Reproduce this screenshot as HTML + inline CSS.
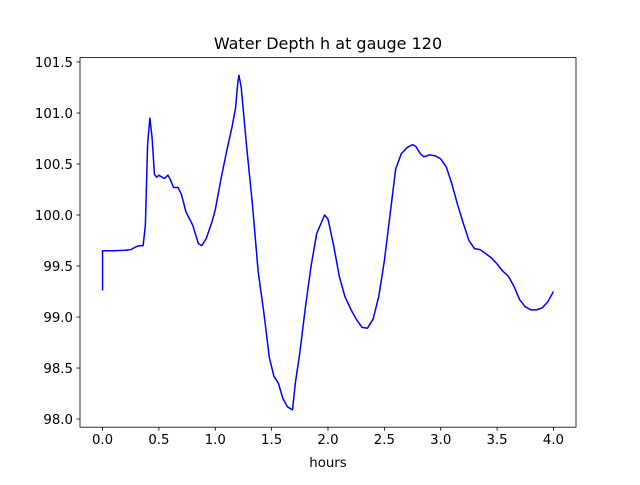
<!DOCTYPE html>
<html><head><meta charset="utf-8"><style>
body{margin:0;background:#fff}
svg text{font-family:"DejaVu Sans","Liberation Sans",sans-serif;fill:#000}
</style></head><body>
<svg width="640" height="480" id="chart"></svg>
<script>
const hours=[0,0,0.1,0.2,0.25,0.3,0.33,0.36,0.38,0.4,0.42,0.44,0.46,0.48,0.5,0.53,0.55,0.58,0.6,0.63,0.67,0.7,0.74,0.8,0.85,0.88,0.92,0.97,1.0,1.05,1.1,1.15,1.18,1.2,1.21,1.23,1.28,1.33,1.38,1.43,1.48,1.52,1.56,1.6,1.64,1.685,1.71,1.75,1.8,1.85,1.9,1.97,2.0,2.05,2.1,2.15,2.2,2.25,2.3,2.35,2.4,2.45,2.5,2.55,2.6,2.65,2.7,2.75,2.78,2.82,2.85,2.9,2.95,3.0,3.05,3.1,3.15,3.2,3.25,3.3,3.35,3.4,3.45,3.5,3.55,3.6,3.65,3.7,3.75,3.8,3.85,3.9,3.95,4.0];
const depth=[99.26,99.65,99.65,99.655,99.66,99.69,99.7,99.7,99.9,100.7,100.95,100.75,100.4,100.37,100.39,100.37,100.36,100.39,100.35,100.27,100.27,100.2,100.03,99.9,99.72,99.7,99.77,99.93,100.05,100.35,100.62,100.87,101.05,101.3,101.37,101.25,100.65,100.1,99.45,99.05,98.6,98.42,98.35,98.2,98.12,98.09,98.35,98.65,99.1,99.5,99.82,100.0,99.96,99.7,99.4,99.2,99.08,98.98,98.9,98.89,98.98,99.2,99.55,100.0,100.45,100.6,100.66,100.69,100.67,100.6,100.57,100.59,100.58,100.55,100.47,100.3,100.1,99.92,99.75,99.67,99.66,99.62,99.58,99.52,99.45,99.4,99.3,99.17,99.1,99.07,99.07,99.09,99.15,99.25];
const xTicks=[0,0.5,1.0,1.5,2.0,2.5,3.0,3.5,4.0];
const yTicks=[98.0,98.5,99.0,99.5,100.0,100.5,101.0,101.5];
const L=80,R=576,T=57.6,B=427.2,x0=-0.2,x1=4.2,y0=97.92,y1=101.543;
const sx=v=>L+(v-x0)/(x1-x0)*(R-L), sy=v=>B-(v-y0)/(y1-y0)*(B-T);
const svg=document.getElementById('chart'),NS='http://www.w3.org/2000/svg';
function mk(t,a,p){const e=document.createElementNS(NS,t);for(const k in a)e.setAttribute(k,a[k]);(p||svg).appendChild(e);return e;}
let d='';hours.forEach((h,i)=>{d+=(i?'L':'M')+sx(h).toFixed(2)+','+sy(depth[i]).toFixed(2);});
const line=mk('path',{d:d,fill:'none',stroke:'#0000ff','stroke-width':1.5,'stroke-linejoin':'round'});


const fr=mk('rect',{x:L,y:T,width:R-L,height:B-T,fill:'none',stroke:'#000','stroke-width':0.8});


xTicks.forEach(v=>{const x=sx(v);mk('line',{x1:x,x2:x,y1:B,y2:B+3.5,stroke:'#000','stroke-width':0.8});
const t=mk('text',{x:x,y:B+17,'text-anchor':'middle','font-size':'13.3px'});t.textContent=v.toFixed(1);

});
yTicks.forEach(v=>{const y=sy(v);mk('line',{x1:L-3.5,x2:L,y1:y,y2:y,stroke:'#000','stroke-width':0.8});
const t=mk('text',{x:L-7,y:y+4.8,'text-anchor':'end','font-size':'13.3px'});t.textContent=v.toFixed(1);

});
const xt=mk('text',{x:(L+R)/2,y:467,'text-anchor':'middle','font-size':'13.3px'});xt.textContent='hours';


const tt=mk('text',{x:(L+R)/2,y:49,'text-anchor':'middle','font-size':'16px'});tt.textContent='Water Depth h at gauge 120';


</script>
</body></html>
